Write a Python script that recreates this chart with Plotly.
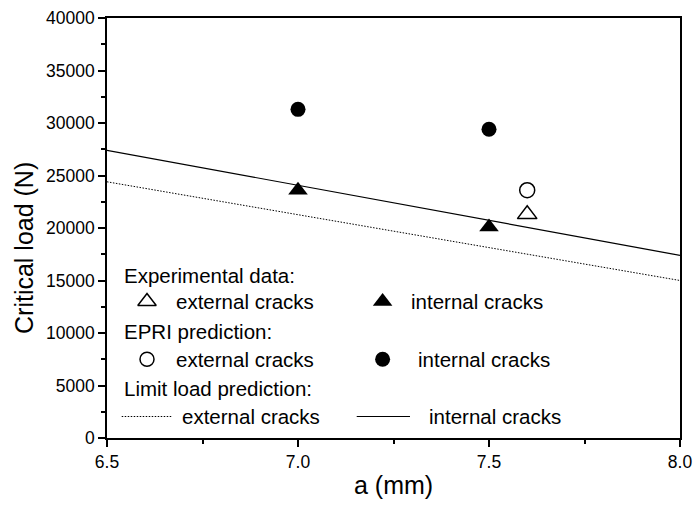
import plotly.graph_objects as go

# Measured critical loads (N) versus crack depth a (mm)
exp_ext_a = [7.6]
exp_ext_load = [21300]
exp_int_a = [7.0, 7.5]
exp_int_load = [23600, 20100]

# EPRI prediction
epri_ext_a = [7.6]
epri_ext_load = [23600]
epri_int_a = [7.0, 7.5]
epri_int_load = [31300, 29400]

# Limit load prediction
limit_a = [6.5, 8.0]
limit_ext_load = [24400, 15000]
limit_int_load = [27400, 17400]

x_ticks = [6.5, 7.0, 7.5, 8.0]
x_tick_text = ["6.5", "7.0", "7.5", "8.0"]
y_ticks = [0, 5000, 10000, 15000, 20000, 25000, 30000, 35000, 40000]
y_tick_text = ["0", "5000", "10000", "15000", "20000", "25000", "30000", "35000", "40000"]

legend_headers = ["Experimental data:", "EPRI prediction:", "Limit load prediction:"]
legend_ext_label = "external cracks"
legend_int_label = "internal cracks"

FONT = "Liberation Sans, Arial, Helvetica, sans-serif"
BLACK = "black"

fig = go.Figure()

# Limit load lines
fig.add_trace(go.Scatter(x=limit_a, y=limit_ext_load, mode="lines",
                         line=dict(color=BLACK, width=1, dash="1.5px,1.5px"),
                         showlegend=False, hoverinfo="skip"))
fig.add_trace(go.Scatter(x=limit_a, y=limit_int_load, mode="lines",
                         line=dict(color=BLACK, width=1.2),
                         showlegend=False, hoverinfo="skip"))

tri_size = 17
circ_size = 15

# Experimental points
fig.add_trace(go.Scatter(x=exp_ext_a, y=exp_ext_load, mode="markers",
                         marker=dict(symbol="triangle-up-open", size=tri_size, color=BLACK,
                                     line=dict(width=1.5, color=BLACK)),
                         showlegend=False))
fig.add_trace(go.Scatter(x=exp_int_a, y=exp_int_load, mode="markers",
                         marker=dict(symbol="triangle-up", size=tri_size, color=BLACK),
                         showlegend=False))

# EPRI points
fig.add_trace(go.Scatter(x=epri_ext_a, y=epri_ext_load, mode="markers",
                         marker=dict(symbol="circle-open", size=circ_size, color=BLACK,
                                     line=dict(width=1.5, color=BLACK)),
                         showlegend=False))
fig.add_trace(go.Scatter(x=epri_int_a, y=epri_int_load, mode="markers",
                         marker=dict(symbol="circle", size=circ_size, color=BLACK),
                         showlegend=False))

# Hand-laid key inside the plot area (fractions of the plotting area)
header_y = [0.388, 0.2536, 0.1183]
row_y = [0.325, 0.1874, 0.0512]
glyph_x_ext = 0.0698
glyph_x_int = 0.481
text_x_ext = [0.117, 0.117, 0.1274]
text_x_int = [0.5276, 0.539, 0.559]

key_symbols_ext = ["triangle-up-open", "circle-open"]
key_symbols_int = ["triangle-up", "circle"]
key_sizes = [tri_size, circ_size]
for i in range(2):
    fig.add_trace(go.Scatter(x=[glyph_x_ext], y=[row_y[i]], mode="markers",
                             xaxis="x2", yaxis="y2", showlegend=False, hoverinfo="skip",
                             marker=dict(symbol=key_symbols_ext[i], size=key_sizes[i] - 1,
                                         color=BLACK, line=dict(width=1.5, color=BLACK))))
    fig.add_trace(go.Scatter(x=[glyph_x_int], y=[row_y[i]], mode="markers",
                             xaxis="x2", yaxis="y2", showlegend=False, hoverinfo="skip",
                             marker=dict(symbol=key_symbols_int[i], size=key_sizes[i],
                                         color=BLACK)))

fig.add_trace(go.Scatter(x=[0.0257, 0.1129], y=[row_y[2], row_y[2]], mode="lines",
                         xaxis="x2", yaxis="y2", showlegend=False, hoverinfo="skip",
                         line=dict(color=BLACK, width=1, dash="1.5px,1.5px")))
fig.add_trace(go.Scatter(x=[0.4358, 0.5288], y=[row_y[2], row_y[2]], mode="lines",
                         xaxis="x2", yaxis="y2", showlegend=False, hoverinfo="skip",
                         line=dict(color=BLACK, width=1.2)))

annotations = []
key_font = dict(family=FONT, size=20.5, color=BLACK)
for i, h in enumerate(legend_headers):
    annotations.append(dict(x=0.0256, y=header_y[i], xref="paper", yref="paper",
                            text=h, showarrow=False, xanchor="left", yanchor="middle",
                            font=key_font))
for i in range(3):
    annotations.append(dict(x=text_x_ext[i], y=row_y[i], xref="paper", yref="paper",
                            text=legend_ext_label, showarrow=False, xanchor="left",
                            yanchor="middle", font=key_font))
    annotations.append(dict(x=text_x_int[i], y=row_y[i], xref="paper", yref="paper",
                            text=legend_int_label, showarrow=False, xanchor="left",
                            yanchor="middle", font=key_font))

# Axis titles
annotations.append(dict(x=0.5, y=(438 - 485) / 420, xref="paper", yref="paper",
                        text="a (mm)", showarrow=False, xanchor="center", yanchor="middle",
                        font=dict(family=FONT, size=25, color=BLACK)))
annotations.append(dict(x=(24 - 107) / 573, y=(438 - 248) / 420, xref="paper", yref="paper",
                        text="Critical load (N)", textangle=-90, showarrow=False,
                        xanchor="center", yanchor="middle",
                        font=dict(family=FONT, size=25, color=BLACK)))

axis_common = dict(showgrid=False, zeroline=False, showline=True, linecolor=BLACK,
                   linewidth=1.5, mirror=True, ticks="outside", tickcolor=BLACK,
                   tickwidth=1.5, ticklen=7, automargin=False,
                   tickfont=dict(family=FONT, size=17.5, color=BLACK))

fig.update_layout(
    width=695, height=508, autosize=False,
    margin=dict(l=107, r=15, t=18, b=70, autoexpand=False),
    paper_bgcolor="white", plot_bgcolor="white",
    showlegend=False,
    annotations=annotations,
    xaxis=dict(range=[6.5, 8.0], tickvals=x_ticks, ticktext=x_tick_text,
               minor=dict(ticks="outside", dtick=0.25, ticklen=4, tickcolor=BLACK, tickwidth=1.5),
               **axis_common),
    yaxis=dict(range=[0, 40000], tickvals=y_ticks, ticktext=y_tick_text,
               minor=dict(ticks="outside", dtick=2500, ticklen=4, tickcolor=BLACK, tickwidth=1.5),
               **axis_common),
    xaxis2=dict(overlaying="x", range=[0, 1], visible=False, fixedrange=True),
    yaxis2=dict(overlaying="y", range=[0, 1], visible=False, fixedrange=True),
)

fig.write_html("out.html")
